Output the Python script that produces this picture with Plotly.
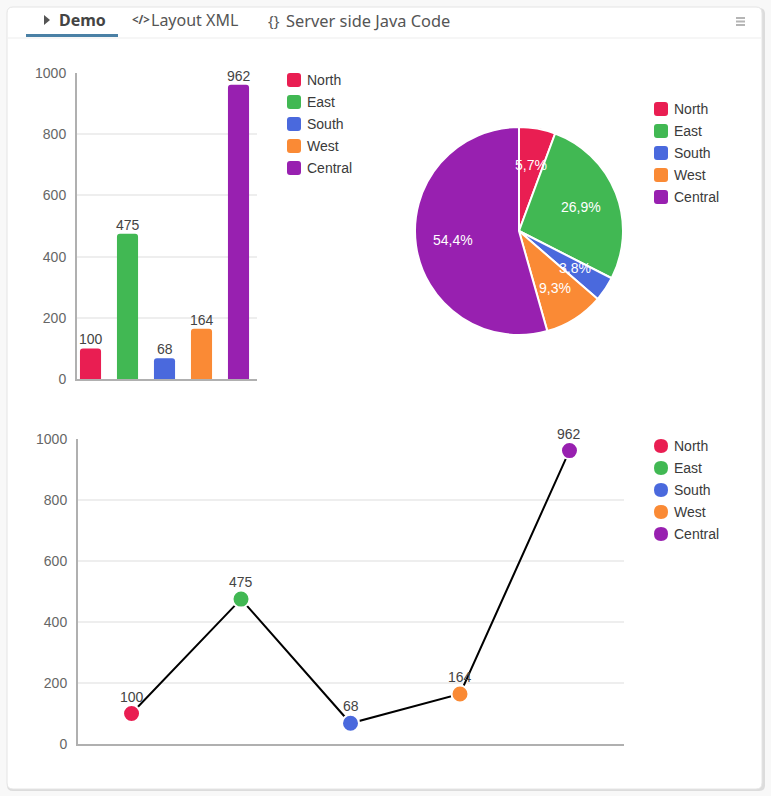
import math
import plotly.graph_objects as go

categories = ["North", "East", "South", "West", "Central"]
values = [100, 475, 68, 164, 962]
colors = ["#E91E52", "#41B853", "#4A69DD", "#FA8A35", "#9820B0"]
y_ticks = [0, 200, 400, 600, 800, 1000]
tabs = ["Demo", "Layout XML", "Server side Java Code"]

W, H = 771, 796
# the renderer keeps this much of the page height outside the plot area
TOP_GAP, PLOT_H = 8, 780
TEXT = "#444444"
TICK = "#666666"
ARIAL = "Liberation Sans, Arial, sans-serif"
TAB = "Noto Sans, sans-serif"


def px(x):
    return x / W


def py(y):
    return 1 - (y - TOP_GAP) / PLOT_H


def rounded(x0, y0, x1, y1, r):
    return (
        f"M{px(x0 + r)},{py(y0)} L{px(x1 - r)},{py(y0)} Q{px(x1)},{py(y0)} {px(x1)},{py(y0 + r)} "
        f"L{px(x1)},{py(y1 - r)} Q{px(x1)},{py(y1)} {px(x1 - r)},{py(y1)} "
        f"L{px(x0 + r)},{py(y1)} Q{px(x0)},{py(y1)} {px(x0)},{py(y1 - r)} "
        f"L{px(x0)},{py(y0 + r)} Q{px(x0)},{py(y0)} {px(x0 + r)},{py(y0)} Z"
    )


shapes = []
annotations = []


def paper_shape(path, fill, line=None, layer="below"):
    shapes.append(dict(type="path", xref="paper", yref="paper", path=path, fillcolor=fill,
                       line=dict(color=line or fill, width=1 if line else 0), layer=layer))


def label(x, y, text, size=14, color=TEXT, family=ARIAL, anchor="left"):
    annotations.append(dict(xref="paper", yref="paper", x=px(x), y=py(y), text=text, showarrow=False,
                            xanchor=anchor, yanchor="middle", borderpad=0, borderwidth=0,
                            font=dict(size=size, color=color, family=family)))


def value_label(xaxis, yaxis, c, v, shift):
    annotations.append(dict(xref=xaxis, yref=yaxis, x=c, y=v, text=str(v), showarrow=False,
                            xanchor="center", yanchor="middle", yshift=shift, borderpad=0, borderwidth=0,
                            font=dict(size=14, color=TEXT, family=ARIAL)))


# card
paper_shape(rounded(7, 8, 765, 791, 6), "#DCDCDC")
paper_shape(rounded(7, 7, 762, 789, 6), "#FFFFFF", "#E4E4E4")
# header
paper_shape(f"M{px(8)},{py(37.5)} L{px(761)},{py(37.5)} L{px(761)},{py(38.5)} L{px(8)},{py(38.5)} Z", "#EEEEEE")
paper_shape(f"M{px(26)},{py(34)} L{px(118)},{py(34)} L{px(118)},{py(37)} L{px(26)},{py(37)} Z", "#4A80A5")
paper_shape(f"M{px(44)},{py(15)} L{px(50)},{py(20)} L{px(44)},{py(25)} Z", "#555555")
for yy in (17, 20.5, 24):
    paper_shape(f"M{px(736)},{py(yy)} L{px(745)},{py(yy)} L{px(745)},{py(yy + 2)} L{px(736)},{py(yy + 2)} Z", "#B5B5B5")

label(59, 20.5, f"<b>{tabs[0]}</b>", 16, "#444444", TAB)
label(131.5, 20, "<b>&lt;/&gt;</b>", 11.5, "#555555", TAB)
label(151, 20.5, tabs[1], 16, "#555555", TAB)
label(267.5, 20, "{}", 15, "#555555", TAB)
label(286, 20.5, tabs[2], 16.4, "#555555", TAB)


def legend(x, y_first, radius):
    for i, (c, col) in enumerate(zip(categories, colors)):
        y = y_first + 22 * i
        paper_shape(rounded(x, y - 7, x + 14, y + 7, radius), col)
        label(x + 20, y, c, 14, "#3A3A3A")


legend(287, 80, 3)
legend(654, 109, 3)
legend(654, 446, 7)

fig = go.Figure()

# bar chart
for c, v, col in zip(categories, values, colors):
    fig.add_trace(go.Bar(x=[c], y=[v], name=c, marker=dict(color=col, cornerradius=3, line=dict(width=0)),
                         width=0.57, xaxis="x", yaxis="y", showlegend=False))
    value_label("x", "y", c, v, 9)

# pie chart
cx, cy, r = 519, 231, 104
fig.add_trace(go.Pie(labels=categories, values=values, sort=False, direction="clockwise", rotation=0,
                     marker=dict(colors=colors, line=dict(color="#FFFFFF", width=2)),
                     textinfo="none", showlegend=False,
                     domain=dict(x=[px(cx - r), px(cx + r)], y=[py(cy + r), py(cy - r)])))
total = sum(values)
cum = 0
for v in values:
    mid = (cum + v / 2) / total * 2 * math.pi
    cum += v
    label(cx + 0.645 * r * math.sin(mid), cy - 0.645 * r * math.cos(mid),
          f"{v / total * 100:.1f}%".replace(".", ","), 14, "#FFFFFF", ARIAL, "center")

# line chart
fig.add_trace(go.Scatter(x=categories, y=values, mode="lines", line=dict(color="#000000", width=2),
                         xaxis="x2", yaxis="y2", showlegend=False, hoverinfo="skip"))
for c, v, col in zip(categories, values, colors):
    fig.add_trace(go.Scatter(x=[c], y=[v], name=c, mode="markers", cliponaxis=False,
                             marker=dict(color=col, size=17, line=dict(color="#FFFFFF", width=2)),
                             xaxis="x2", yaxis="y2", showlegend=False))
    value_label("x2", "y2", c, v, 17)

axis_y = dict(range=[0, 1000], tickvals=y_ticks, showgrid=True, gridcolor="#EEEEEE", gridwidth=2,
              showline=True, linecolor="#B0B0B0", linewidth=2, zeroline=False, ticks="",
              ticklabelstandoff=6, tickfont=dict(size=14, color=TICK, family=ARIAL), fixedrange=True)
axis_x = dict(type="category", categoryorder="array", categoryarray=categories, showgrid=False,
              showline=True, linecolor="#B0B0B0", linewidth=2, zeroline=False, ticks="",
              showticklabels=False, fixedrange=True)

fig.update_layout(
    width=W, height=H, autosize=False,
    margin=dict(l=0, r=0, t=0, b=0, pad=0),
    paper_bgcolor="#F8F8F8", plot_bgcolor="rgba(0,0,0,0)",
    barmode="overlay", showlegend=False,
    xaxis=dict(axis_x, domain=[px(77), px(257)], range=[-0.365, 4.5], anchor="y"),
    yaxis=dict(axis_y, domain=[py(379), py(73)], anchor="x"),
    xaxis2=dict(axis_x, domain=[px(78), px(624)], range=[-0.489, 4.498], anchor="y2"),
    yaxis2=dict(axis_y, domain=[py(744), py(439)], anchor="x2"),
    shapes=shapes, annotations=annotations,
)

fig.write_html("out.html", config=dict(displayModeBar=False),
               post_script="document.body.style.margin='0';document.body.style.overflow='hidden';")
